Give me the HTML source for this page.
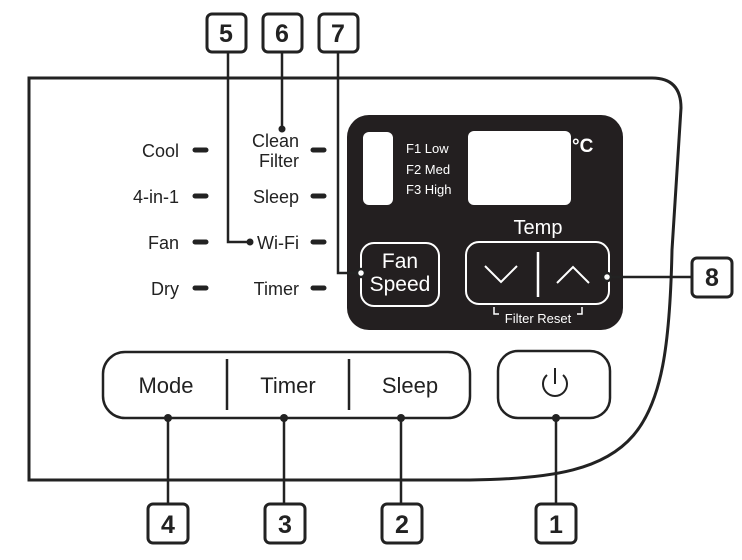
<!DOCTYPE html>
<html><head><meta charset="utf-8"><style>
html,body{margin:0;padding:0;background:#fff;}
svg{display:block;font-family:"Liberation Sans",sans-serif;}
</style></head><body>
<svg width="742" height="560" viewBox="0 0 742 560" xmlns="http://www.w3.org/2000/svg">
<!-- outer frame -->
<path d="M29,480 L29,78 L652,78 Q681,78 681,108 L672,250 C668,440 640,478 470,480 Z" fill="none" stroke="#222" stroke-width="3"/>

<!-- left labels -->
<g font-size="18" fill="#222" text-anchor="end">
<text x="179" y="157">Cool</text>
<text x="179" y="203">4-in-1</text>
<text x="179" y="249">Fan</text>
<text x="179" y="295">Dry</text>
<text x="299" y="147">Clean</text>
<text x="299" y="167">Filter</text>
<text x="299" y="203">Sleep</text>
<text x="299" y="249">Wi-Fi</text>
<text x="299" y="295">Timer</text>
</g>
<g stroke="#222" stroke-width="5" stroke-linecap="round">
<line x1="195" y1="150" x2="206" y2="150"/><line x1="195" y1="196" x2="206" y2="196"/>
<line x1="195" y1="242" x2="206" y2="242"/><line x1="195" y1="288" x2="206" y2="288"/>
<line x1="313" y1="150" x2="324" y2="150"/><line x1="313" y1="196" x2="324" y2="196"/>
<line x1="313" y1="242" x2="324" y2="242"/><line x1="313" y1="288" x2="324" y2="288"/>
</g>

<!-- dark panel -->
<rect x="347" y="115" width="276" height="215" rx="22" fill="#231f20"/>
<rect x="363" y="132" width="30" height="73" rx="6" fill="#fff"/>
<rect x="468" y="131" width="103" height="74" rx="6" fill="#fff"/>
<g fill="#fff" font-size="13">
<text x="406" y="153">F1  Low</text>
<text x="406" y="174">F2  Med</text>
<text x="406" y="194">F3  High</text>
</g>
<text x="572" y="152" fill="#fff" font-size="19" font-weight="bold">°C</text>
<text x="538" y="234" fill="#fff" font-size="20" text-anchor="middle">Temp</text>
<rect x="361" y="243" width="78" height="63" rx="13" fill="none" stroke="#fff" stroke-width="2"/>
<text x="400" y="268" fill="#fff" font-size="21" text-anchor="middle">Fan</text>
<text x="400" y="291" fill="#fff" font-size="21" text-anchor="middle">Speed</text>
<rect x="466" y="242" width="143" height="62" rx="13" fill="none" stroke="#fff" stroke-width="2"/>
<line x1="538" y1="252" x2="538" y2="297" stroke="#fff" stroke-width="2.5"/>
<polyline points="485,266 501,282 517,266" fill="none" stroke="#fff" stroke-width="2"/>
<polyline points="557,283 573,267 589,283" fill="none" stroke="#fff" stroke-width="2"/>
<path d="M494,307 V314 H499 M577,314 H582 V307" fill="none" stroke="#fff" stroke-width="1.5"/>
<text x="538" y="323" fill="#fff" font-size="13" text-anchor="middle">Filter Reset</text>

<!-- bottom buttons -->
<rect x="103" y="352" width="367" height="66" rx="22" fill="#fff" stroke="#222" stroke-width="2.5"/>
<line x1="227" y1="359" x2="227" y2="410" stroke="#222" stroke-width="2.5"/>
<line x1="349" y1="359" x2="349" y2="410" stroke="#222" stroke-width="2.5"/>
<g font-size="22" fill="#222" text-anchor="middle">
<text x="166" y="393">Mode</text>
<text x="288" y="393">Timer</text>
<text x="410" y="393">Sleep</text>
</g>
<rect x="498" y="351" width="112" height="67" rx="20" fill="#fff" stroke="#222" stroke-width="2.5"/>
<path d="M547,375 A12,12 0 1 0 563,375" fill="none" stroke="#222" stroke-width="2"/>
<line x1="555" y1="368" x2="555" y2="384" stroke="#222" stroke-width="2"/>

<!-- callouts -->
<g stroke="#222" stroke-width="2.5" fill="none">
<polyline points="228,52 228,242 248,242"/>
<line x1="282" y1="52" x2="282" y2="128"/>
<polyline points="338,52 338,273 357,273"/>
<line x1="611" y1="277" x2="692" y2="277"/>
<line x1="168" y1="418" x2="168" y2="503"/>
<line x1="284" y1="418" x2="284" y2="503"/>
<line x1="401" y1="418" x2="401" y2="503"/>
<line x1="556" y1="418" x2="556" y2="503"/>
</g>
<g fill="#222">
<circle cx="250" cy="242" r="3.5"/><circle cx="282" cy="129" r="3.5"/>
<circle cx="168" cy="418" r="4"/><circle cx="284" cy="418" r="4"/>
<circle cx="401" cy="418" r="4"/><circle cx="556" cy="418" r="4"/>
</g>
<circle cx="361" cy="273" r="4" fill="#fff" stroke="#222" stroke-width="2.5"/>
<circle cx="607" cy="277" r="4" fill="#fff" stroke="#222" stroke-width="2.5"/>

<g fill="#fff" stroke="#222" stroke-width="3">
<rect x="207" y="14" width="39" height="38" rx="5"/>
<rect x="263" y="14" width="39" height="38" rx="5"/>
<rect x="319" y="14" width="39" height="38" rx="5"/>
<rect x="692" y="258" width="40" height="39" rx="5"/>
<rect x="148" y="504" width="40" height="39" rx="5"/>
<rect x="265" y="504" width="40" height="39" rx="5"/>
<rect x="382" y="504" width="40" height="39" rx="5"/>
<rect x="536" y="504" width="40" height="39" rx="5"/>
</g>
<g font-size="25" font-weight="bold" fill="#222" text-anchor="middle">
<text x="226" y="42">5</text><text x="282" y="42">6</text><text x="338" y="42">7</text>
<text x="712" y="286">8</text>
<text x="168" y="533">4</text><text x="285" y="533">3</text>
<text x="402" y="533">2</text><text x="556" y="533">1</text>
</g>
</svg>
</body></html>
